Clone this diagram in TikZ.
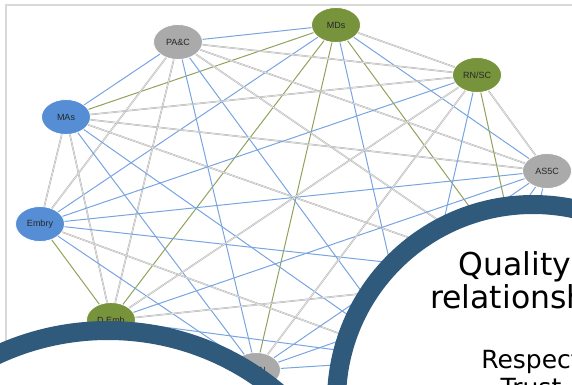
\documentclass[tikz,border=0pt]{standalone}
\usepackage{fontspec}
\setmainfont{Liberation Sans}
\newfontfamily\ringfont{DejaVu Sans}
\usetikzlibrary{shapes.geometric}

\definecolor{ringblue}{RGB}{47,90,124}
\definecolor{mdgreen}{RGB}{119,147,60}
\definecolor{mablue}{RGB}{85,142,213}
\definecolor{pagray}{RGB}{170,170,170}
\definecolor{linkblue}{RGB}{120,165,225}
\definecolor{linkgreen}{RGB}{143,163,92}
\definecolor{linkgray}{RGB}{178,178,178}
\definecolor{framegray}{RGB}{217,217,217}

\tikzset{
    role/.style={ellipse, draw=white, line width=0.8pt, minimum width=49pt,
        minimum height=35pt, inner sep=0pt,
        font=\fontsize{9}{10}\selectfont, text=black!85},
    gl/.style={draw=linkgray, line width=0.5pt, double=black!8, double distance=0.6pt},
    bl/.style={draw=linkblue, line width=1pt},
    ol/.style={draw=linkgreen, line width=1pt},
    ring/.style={draw=ringblue, line width=19pt, fill=white}
}

\begin{document}
\begin{tikzpicture}[x=1pt, y=-1pt]
    \useasboundingbox (0, 0) rectangle (572, 384);
    \clip (0, 0) rectangle (572, 384);

    % frame of the network screenshot
    \draw[framegray, line width=1.5pt] (6, 600) -- (6, 5) -- (600, 5);

    % roles
    \node[role, fill=mdgreen] (n0) at (336, 25) {MDs};
    \node[role, fill=pagray] (n1) at (178, 42) {PA\&C};
    \node[role, fill=mablue] (n2) at (66, 117) {MAs};
    \node[role, fill=mablue] (n3) at (40, 224) {Embry};
    \node[role, fill=mdgreen] (n4) at (111, 320) {D.Emb};
    \node[role, fill=pagray] (n5) at (256, 370) {DRN};
    \coordinate (n6) at (412, 360);
    \coordinate (n7) at (521, 277);
    \node[role, fill=pagray] (n8) at (547, 171) {AS5C};
    \node[role, fill=mdgreen] (n9) at (477, 75) {RN/SC};

    % links
    \draw
    (n0) edge[bl] (n1)
    (n0) edge[ol] (n2)
    (n0) edge[bl] (n3)
    (n0) edge[ol] (n4)
    (n0) edge[ol] (n5)
    (n0) edge[bl] (n6)
    (n0) edge[ol] (n7)
    (n0) edge[bl] (n8)
    (n0) edge[gl] (n9)
    (n1) edge[bl] (n2)
    (n1) edge[gl] (n3)
    (n1) edge[gl] (n4)
    (n1) edge[bl] (n5)
    (n1) edge[bl] (n6)
    (n1) edge[gl] (n7)
    (n1) edge[gl] (n8)
    (n1) edge[gl] (n9)
    (n2) edge[gl] (n3)
    (n2) edge[gl] (n4)
    (n2) edge[bl] (n5)
    (n2) edge[bl] (n6)
    (n2) edge[gl] (n7)
    (n2) edge[gl] (n8)
    (n2) edge[gl] (n9)
    (n3) edge[ol] (n4)
    (n3) edge[bl] (n5)
    (n3) edge[gl] (n6)
    (n3) edge[bl] (n7)
    (n3) edge[bl] (n8)
    (n3) edge[bl] (n9)
    (n4) edge[gl] (n5)
    (n4) edge[bl] (n6)
    (n4) edge[gl] (n7)
    (n4) edge[bl] (n8)
    (n4) edge[gl] (n9)
    (n5) edge[bl] (n6)
    (n5) edge[bl] (n7)
    (n5) edge[bl] (n8)
    (n5) edge[gl] (n9)
    (n6) edge[gl] (n7)
    (n6) edge[bl] (n8)
    (n6) edge[bl] (n9)
    (n7) edge[bl] (n8)
    (n7) edge[ol] (n9)
    (n8) edge[gl] (n9);

    % the two round panels
    \draw[ring] (108, 595) circle (264.5);
    \draw[ring] (533, 401) circle (196.5);

    \node[anchor=base west, font=\ringfont\fontsize{31.5}{36}\selectfont] (qual) at (455, 275) {Quality};
    \node[anchor=base, font=\ringfont\fontsize{31.5}{36}\selectfont] (rel) at (531, 308) {relationships};
    \node[anchor=base, font=\ringfont\fontsize{25}{30}\selectfont] (resp) at (531, 368) {Respect};
    \node[anchor=base, font=\ringfont\fontsize{25}{30}\selectfont] (trust) at (531, 396) {Trust};
\end{tikzpicture}
\end{document}
